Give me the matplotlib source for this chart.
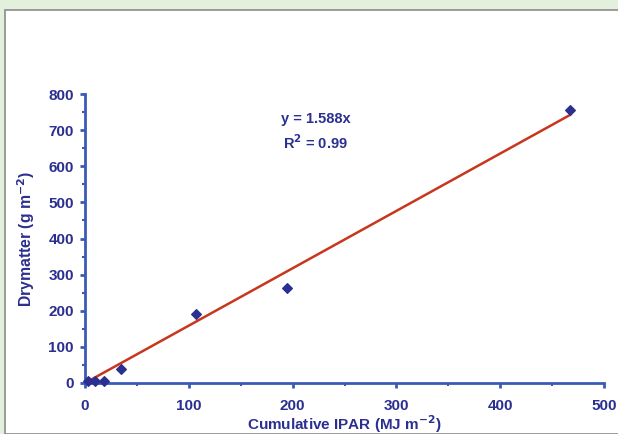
import matplotlib.pyplot as plt
from matplotlib.patches import Rectangle
from matplotlib.ticker import MultipleLocator

# cumulative intercepted PAR vs dry matter
ipar = [3, 10, 18, 35, 107, 195, 467]
drymatter = [5, 5, 6, 40, 192, 262, 757]
slope = 1.588
r2 = 0.99

navy = '#2b2f8f'
axis_blue = '#3a5bb5'
red = '#c8361e'

plt.rcParams['font.family'] = ['Liberation Sans', 'DejaVu Sans']
plt.rcParams['font.weight'] = 'bold'

fig = plt.figure(figsize=(6.18, 4.34), dpi=100)
fig.patch.set_facecolor('#e3f0dc')
fig.patches.append(Rectangle((5 / 618, 0), 1, 1 - 10 / 434, transform=fig.transFigure,
                             facecolor='white', edgecolor='#8a8a8a', linewidth=1.2,
                             zorder=-5))

ax = fig.add_axes([85 / 618, 1 - 383 / 434, 519 / 618, 289 / 434])
ax.set_facecolor('none')

ax.scatter(ipar, drymatter, marker='D', s=24, color=navy, zorder=3, clip_on=False)
xfit = [min(ipar), max(ipar)]
ax.plot(xfit, [slope * v for v in xfit], color=red, linewidth=1.8, zorder=2)

ax.set_xlim(0, 500)
ax.set_ylim(0, 800)
ax.xaxis.set_major_locator(MultipleLocator(100))
ax.xaxis.set_minor_locator(MultipleLocator(50))
ax.yaxis.set_major_locator(MultipleLocator(100))
ax.yaxis.set_minor_locator(MultipleLocator(50))

for s in ['top', 'right']:
    ax.spines[s].set_visible(False)
for s in ['left', 'bottom']:
    ax.spines[s].set_color(axis_blue)
    ax.spines[s].set_linewidth(2)

ax.tick_params(which='major', length=3.5, width=2, color=axis_blue,
               labelcolor=navy, labelsize=11)
ax.tick_params(axis='x', which='major', pad=8)
ax.tick_params(axis='y', which='major', pad=4.5)
ax.tick_params(which='minor', length=2.5, width=1.5, color=axis_blue)
for lab in ax.get_xticklabels() + ax.get_yticklabels():
    lab.set_fontweight('bold')

# x label sits right at the bottom edge, as in the original
fig.text((85 + 519 * 0.5) / 618, 1 - 430 / 434, 'Cumulative IPAR (MJ m$^{\\mathbf{-2}}$)',
         color=navy, fontsize=11, fontweight='bold', ha='center', va='baseline')
ax.set_ylabel('Drymatter (g m$^{\\mathbf{-2}}$)', color=navy, fontsize=11.3,
              fontweight='bold', labelpad=8.5)

ax.text(222, 730, 'y = %.3fx' % slope, color=navy, fontsize=10.5, fontweight='bold',
        ha='center', va='center')
ax.text(222, 666, 'R$^{\\mathbf{2}}$ = %.2f' % r2, color=navy, fontsize=10.5,
        fontweight='bold', ha='center', va='center')

plt.savefig('out.png', dpi=100, facecolor=fig.get_facecolor())
